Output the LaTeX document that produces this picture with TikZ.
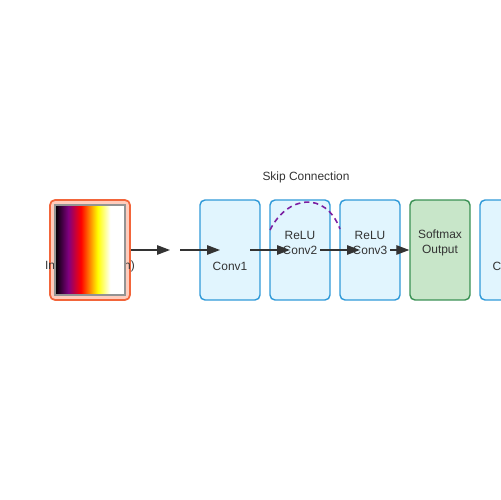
\documentclass[tikz,border=0pt]{standalone}
\usepackage{fontspec}
\setmainfont{Liberation Sans}
\usetikzlibrary{arrows.meta}
\definecolor{convfill}{HTML}{E1F5FE}
\definecolor{convline}{HTML}{2F9AD8}
\definecolor{outfill}{HTML}{C8E6C9}
\definecolor{outline}{HTML}{3A9154}
\definecolor{inpfill}{HTML}{FFCCBC}
\definecolor{inpline}{HTML}{F2653A}
\definecolor{skipcol}{HTML}{7B1FA2}
\definecolor{txtcol}{HTML}{333333}
\definecolor{heatpurple}{HTML}{800080}
\pgfdeclarehorizontalshading{heat}{100bp}{color(0bp)=(black); color(25bp)=(black);
  color(34.5bp)=(heatpurple); color(43.5bp)=(red); color(55.5bp)=(yellow);
  color(64.5bp)=(white); color(100bp)=(white)}
\begin{document}
\begin{tikzpicture}[x=0.02cm, y=-0.02cm,
  every node/.style={font=\fontsize{6.8}{8.2}\selectfont, text=txtcol, align=center},
  layer/.style={draw=convline, fill=convfill, line width=0.8pt, rounded corners=0.1cm,
    minimum width=1.2cm, minimum height=2cm, inner sep=0pt},
  outlayer/.style={layer, draw=outline, fill=outfill},
  inlayer/.style={layer, draw=inpline, fill=inpfill, line width=1pt, minimum width=1.6cm},
  flow/.style={draw=txtcol, line width=0.75pt, -{Triangle[length=0.26cm, width=0.19cm]}},
  skip/.style={draw=skipcol, line width=0.9pt, dashed, dash pattern=on 3pt off 2.2pt}]
\useasboundingbox (0,0) rectangle (500,500);

% boxes
\node[inlayer] (inp) at (90,250) {};
\node[layer] (conv1) at (230,250) {};
\node[layer] (conv2) at (300,250) {};
\node[layer] (conv3) at (370,250) {};
\node[outlayer] (soft) at (440,250) {};
\node[layer] (conv4) at (510,250) {};

% labels
\node (tinp) at (90,266) {Input (Activation)};
\node (tconv1) at (230,266) {Conv1};
\node (tconv2) at (300,243) {ReLU\\Conv2};
\node (tconv3) at (370,243) {ReLU\\Conv3};
\node (tsoft) at (440,243) {Softmax\\Output};
\node (tconv4) at (510,266) {Conv4};
\node (tskip) at (306,177) {Skip Connection};

% spectrogram picture
\shade[shading=heat, draw=gray!85, line width=0.7pt] (55,205) rectangle (125,295);

% arrows
\coordinate (p1) at (170,250);
\coordinate (p2) at (180,250);
\coordinate (p3) at (220,250);
\coordinate (p4) at (250,250);
\coordinate (p5) at (290,250);
\coordinate (p6) at (320,250);
\coordinate (p7) at (360,250);
\coordinate (p8) at (390,250);
\draw[flow] (inp.east) to (p1);
\draw[flow] (p2) to (p3);
\draw[flow] (p4) to (p5);
\draw[flow] (p6) to (p7);
\draw[flow] (p8) to (soft.west);

% skip connection
\coordinate (s1) at (270,230);
\coordinate (s2) at (340,229);
\draw[skip] (s1) .. controls (287,196) and (325,190) .. (s2);
\end{tikzpicture}
\end{document}
